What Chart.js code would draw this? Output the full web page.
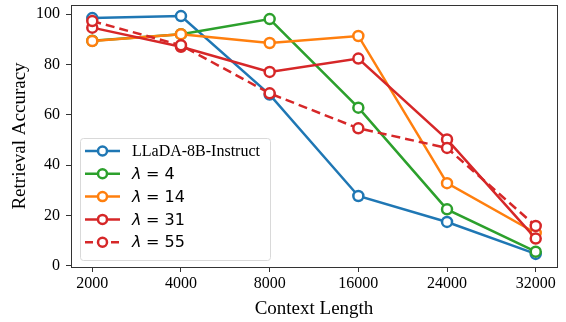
<!DOCTYPE html>
<html>
<head>
<meta charset="utf-8">
<script src="https://cdn.jsdelivr.net/npm/chart.js@4.4.1/dist/chart.umd.min.js"></script>
<style>
  html, body { margin: 0; padding: 0; background: #fff; }
  #wrap { width: 566px; height: 322px; }
</style>
</head>
<body>
<div id="wrap"><canvas id="c" width="566" height="322"></canvas></div>
<script>
// données
const contextLengths = ['2000', '4000', '8000', '16000', '24000', '32000'];
const llada = [98.4, 99.2, 68.0, 27.7, 17.4, 4.7];
const lambda4 = [89.4, 92.0, 98.0, 62.8, 22.4, 5.6];
const lambda14 = [89.3, 92.0, 88.5, 91.3, 32.8, 13.0];
const lambda31 = [94.6, 87.0, 77.0, 82.3, 50.2, 10.8];
const lambda55 = [97.2, 87.6, 68.5, 54.6, 46.8, 15.8];
const yTicks = [0, 20, 40, 60, 80, 100];

const series = [
  { name: 'LLaDA-8B-Instruct', math: false, values: llada, color: '#1f77b4', dash: [] },
  { name: '4', math: true, values: lambda4, color: '#2ca02c', dash: [] },
  { name: '14', math: true, values: lambda14, color: '#ff7f0e', dash: [] },
  { name: '31', math: true, values: lambda31, color: '#d62728', dash: [] },
  { name: '55', math: true, values: lambda55, color: '#d62728', dash: [9, 5] }
];

const datasets = series.map((s, i) => ({
  label: s.math ? '\u03bb = ' + s.name : s.name,
  data: s.values.map((v, j) => ({ x: j, y: v })),
  borderColor: s.color,
  backgroundColor: '#ffffff',
  borderWidth: 2.5,
  borderDash: s.dash,
  pointRadius: 5,
  pointBorderWidth: 2.5,
  pointBackgroundColor: '#ffffff',
  pointBorderColor: s.color,
  tension: 0,
  order: series.length - 1 - i
}));

// cadre + légende façon matplotlib
const framePlugin = {
  id: 'frame',
  afterDraw(chart) {
    const { ctx, chartArea: a } = chart;
    ctx.save();
    ctx.strokeStyle = '#333';
    ctx.lineWidth = 1;
    ctx.strokeRect(a.left + 0.5, a.top + 0.5, a.right - a.left, a.bottom - a.top);

    // légende
    const bx = 80, by = 138, bw = 190, bh = 122;
    ctx.fillStyle = 'rgba(255,255,255,0.85)';
    ctx.strokeStyle = '#d9d9d9';
    ctx.lineWidth = 1;
    ctx.beginPath();
    ctx.roundRect(bx + 0.5, by + 0.5, bw, bh, 3);
    ctx.fill();
    ctx.stroke();

    series.forEach((s, i) => {
      const y = 151 + i * 22.8;
      ctx.strokeStyle = s.color;
      ctx.lineWidth = 2.5;
      ctx.setLineDash(s.dash.length ? [8, 5] : []);
      ctx.beginPath();
      ctx.moveTo(85, y);
      ctx.lineTo(120, y);
      ctx.stroke();
      ctx.setLineDash([]);
      ctx.beginPath();
      ctx.arc(102.5, y, 4.5, 0, Math.PI * 2);
      ctx.fillStyle = '#fff';
      ctx.fill();
      ctx.stroke();

      ctx.fillStyle = '#000';
      ctx.textBaseline = 'middle';
      if (s.math) {
        ctx.font = 'italic 16px "DejaVu Sans"';
        ctx.fillText('\u03bb', 132, y + 1);
        ctx.font = '16px "DejaVu Sans"';
        ctx.fillText('= ' + s.name, 146, y + 1);
      } else {
        ctx.font = '16px "Liberation Serif"';
        ctx.fillText(s.name, 132, y + 1);
      }
    });
    ctx.restore();
  }
};

new Chart(document.getElementById('c'), {
  type: 'line',
  data: { datasets },
  plugins: [framePlugin],
  options: {
    responsive: false,
    animation: false,
    layout: { autoPadding: false, padding: { top: 5, right: 9, left: 0, bottom: 0 } },
    plugins: { legend: { display: false }, tooltip: { enabled: false } },
    scales: {
      x: {
        type: 'linear',
        min: -0.24,
        max: 5.24,
        afterBuildTicks: axis => { axis.ticks = contextLengths.map((_, i) => ({ value: i })); },
        afterFit: axis => { axis.height = 55; axis.paddingLeft = 0; axis.paddingRight = 0; },
        ticks: {
          callback: v => contextLengths[v],
          color: '#000',
          font: { family: 'Liberation Serif', size: 16 },
          padding: 2,
          maxRotation: 0
        },
        grid: { drawOnChartArea: false, drawTicks: true, tickLength: 5, color: '#333' },
        border: { display: false },
        title: {
          display: true,
          text: 'Context Length',
          color: '#000',
          font: { family: 'Liberation Serif', size: 19 },
          padding: { top: 0, bottom: 2 }
        }
      },
      y: {
        min: -0.5,
        max: 103.6,
        afterBuildTicks: axis => { axis.ticks = yTicks.map(v => ({ value: v })); },
        afterFit: axis => { axis.width = 71; axis.paddingTop = 0; axis.paddingBottom = 0; },
        ticks: {
          color: '#000',
          font: { family: 'Liberation Serif', size: 16 },
          padding: 6
        },
        grid: { drawOnChartArea: false, drawTicks: true, tickLength: 5, color: '#333' },
        border: { display: false },
        title: {
          display: true,
          text: 'Retrieval Accuracy',
          color: '#000',
          font: { family: 'Liberation Serif', size: 19 },
          padding: { top: 9, bottom: 0 }
        }
      }
    }
  }
});
</script>
</body>
</html>
